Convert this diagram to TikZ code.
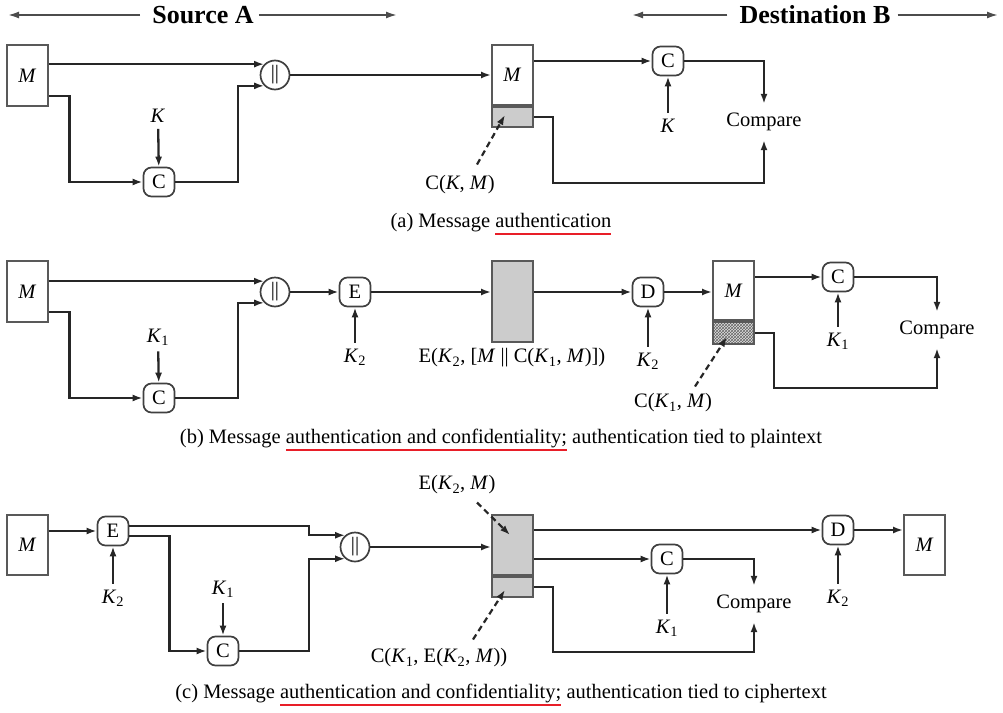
\documentclass[tikz,border=0pt]{standalone}
\usepackage{fontspec}
\setmainfont{Liberation Serif}
\usetikzlibrary{arrows.meta,patterns,calc}
\definecolor{ulred}{RGB}{232,30,40}
\newcommand\redund[1]{\setbox0\hbox{#1}\rlap{\color{ulred}\rule[-8pt]{\wd0}{2pt}}\box0\relax}
\newcommand\Kk[1]{\textit{K}\textsubscript{#1}}
\newcommand\Mi{\textit{M}}
\tikzset{
  ln/.style={line width=2.3pt, draw=black!85},
  arr/.style={ln, -{Latex[length=10pt,width=7pt]}},
  op/.style={draw=black!75, line width=1.7pt, rounded corners=8pt, minimum width=31pt, minimum height=29pt},
  cat/.style={circle, draw=black!75, line width=1.7pt, minimum size=29pt},
  msgbox/.style={draw=black!65, line width=1.9pt, minimum width=41pt},
  keylab/.style={inner ysep=6pt},
  cmp/.style={inner ysep=9pt},
  dsh/.style={line width=2.2pt, draw=black!85, dash pattern=on 6pt off 4pt, -{Latex[length=10pt,width=7pt]}},
  hdr/.style={line width=1.8pt, draw=black!70, -{Latex[length=11pt,width=7pt]}},
  hdrtext/.style={font=\fontsize{26}{30}\selectfont\bfseries},
  capt/.style={anchor=base},
}
\begin{document}
\begin{tikzpicture}[x=1pt,y=-1pt, every node/.style={inner sep=0pt, font=\fontsize{20.5}{24}\selectfont}]
\useasboundingbox (0,0) rectangle (1003,712);
% ---------- header
\node[hdrtext] (SA) at (203,15) {Source A};
\node[hdrtext] (DB) at (815,15) {Destination B};
\coordinate (h1) at (8,15);
\coordinate (h2) at (397,15);
\coordinate (h3) at (632,15);
\coordinate (h4) at (998,15);
\draw[hdr] ($(SA.west)+(-12,0)$) -- (h1);
\draw[hdr] ($(SA.east)+(5,0)$) -- (h2);
\draw[hdr] ($(DB.west)+(-12,0)$) -- (h3);
\draw[hdr] ($(DB.east)+(7,0)$) -- (h4);
% ---------- (a)
\node[msgbox, minimum height=61pt] (Ma) at (27.5,75.5) {\Mi};
\node[cat] (Pa) at (275,75) {||};
\node[op] (Csa) at (159,182) {C};
\node[keylab] (Ksa) at (158,116) {\textit{K}};
\draw[arr] (Ksa) -- (Csa);
\draw[arr] (Ma.east |- Pa.135) -- (Pa.135);
\draw[arr] (Ma.east) ++(0,20.5) -- ++(20.5,0) |- (Csa.west);
\draw[arr] (Csa.east) -| ($(Pa.225)+(-26,0)$) -- (Pa.225);
\node[msgbox, minimum height=60pt] (Mra) at (512.5,75) {\Mi};
\node[msgbox, fill=gray!40, minimum height=20pt, anchor=north] (Tra) at (Mra.south) {};
\draw[arr] (Pa) -- (Mra);
\node[op] (Cra) at (668,61) {C};
\node[keylab] (Kra) at (668,126) {\textit{K}};
\draw[arr] (Kra) -- (Cra);
\draw[arr] (Mra.east |- Cra) -- (Cra);
\node[cmp] (Cmpa) at (764,122) {Compare};
\draw[arr] (Cra.east) -| (Cmpa.north);
\draw[arr] (Tra.east) -- ++(19,0) |- ($(Cmpa.south)+(0,42.5)$) -- (Cmpa.south);
\node (CKMa) at (460,185) {C(\textit{K}, \Mi)};
\draw[dsh] ($(CKMa.north)+(17,-11)$) -- ($(Tra.center)+(-7.5,-2)$);
\node[capt] (capa) at (501,227) {(a) Message \redund{authentication}};
% ---------- (b)
\node[msgbox, minimum height=61pt] (Mb) at (27.5,291.5) {\Mi};
\node[cat] (Pb) at (275,292) {||};
\node[op] (Csb) at (159,398) {C};
\node[keylab] (Ksb) at (158,337) {\Kk{1}};
\draw[arr] (Ksb) -- (Csb);
\draw[arr] (Mb.east |- Pb.135) -- (Pb.135);
\draw[arr] (Mb.east) ++(0,20.5) -- ++(20.5,0) |- (Csb.west);
\draw[arr] (Csb.east) -| ($(Pb.225)+(-26,0)$) -- (Pb.225);
\node[op] (Eb) at (355,292) {E};
\node[keylab] (K2b) at (355,357) {\Kk{2}};
\draw[arr] (K2b) -- (Eb);
\draw[arr] (Pb) -- (Eb);
\node[msgbox, fill=gray!40, minimum height=81pt] (Gb) at (512.5,301.5) {};
\draw[arr] (Eb) -- (Eb -| Gb.west);
\node (EKb) at (512,358) {E(\Kk{2}, [\Mi\ || C(\Kk{1}, \Mi)])};
\node[op] (Db) at (648,292) {D};
\node[keylab] (K2d) at (648,361) {\Kk{2}};
\draw[arr] (K2d) -- (Db);
\draw[arr] (Gb.east |- Db) -- (Db);
\node[msgbox, minimum height=59pt] (Mrb) at (733.5,290.5) {\Mi};
\node[msgbox, preaction={fill=gray!25}, pattern=crosshatch, pattern color=black!60, minimum height=22pt, anchor=north] (Hb) at (Mrb.south) {};
\draw[arr] (Db) -- (Db -| Mrb.west);
\node[op] (Crb) at (838,277) {C};
\node[keylab] (K1b) at (838,341) {\Kk{1}};
\draw[arr] (K1b) -- (Crb);
\draw[arr] (Mrb.east |- Crb) -- (Crb);
\node[cmp] (Cmpb) at (937,330) {Compare};
\draw[arr] (Crb.east) -| (Cmpb.north);
\draw[arr] (Hb.east) -- ++(19,0) |- ($(Cmpb.south)+(0,39.5)$) -- (Cmpb.south);
\node (CKMb) at (673,403) {C(\Kk{1}, \Mi)};
\draw[dsh] ($(CKMb.north)+(22,-7)$) -- ($(Hb.center)+(-6.5,4)$);
\node[capt] (capb) at (501,443) {(b) Message \redund{authentication and confidentiality;} authentication tied to plaintext};
% ---------- (c)
\node[msgbox, minimum height=60pt] (Mc) at (27.5,545) {\Mi};
\node[op] (Ec) at (113,531) {E};
\node[keylab] (K2c) at (113,598) {\Kk{2}};
\draw[arr] (K2c) -- (Ec);
\draw[arr] (Mc.east |- Ec) -- (Ec);
\node[cat] (Pc) at (355,547) {||};
\node[op] (Csc) at (223,651) {C};
\node[keylab] (K1c) at (223,589) {\Kk{1}};
\draw[arr] (K1c) -- (Csc);
\draw[arr] ($(Ec.east)+(0,-5)$) -| ($(Pc.130)+(-36,0)$) -- (Pc.130);
\draw[arr] ($(Ec.east)+(0,5)$) -- ++(40,0) |- (Csc.west);
\draw[arr] (Csc.east) -| ($(Pc.230)+(-36,0)$) -- (Pc.230);
\node[msgbox, fill=gray!40, minimum height=60pt] (Gc) at (512.5,545) {};
\node[msgbox, fill=gray!40, minimum height=20pt, anchor=north] (Gcl) at (Gc.south) {};
\draw[arr] (Pc) -- (Pc -| Gc.west);
\node[op] (Dc) at (838,530) {D};
\node[keylab] (K2e) at (838,598) {\Kk{2}};
\draw[arr] (K2e) -- (Dc);
\draw[arr] (Gc.east |- Dc) -- (Dc);
\node[msgbox, minimum height=60pt] (Mc2) at (924.5,545) {\Mi};
\draw[arr] (Dc) -- (Dc -| Mc2.west);
\node[op] (Crc) at (667,559) {C};
\node[keylab] (K1e) at (667,628) {\Kk{1}};
\draw[arr] (K1e) -- (Crc);
\draw[arr] (Gc.east |- Crc) -- (Crc);
\node[cmp] (Cmpc) at (754,604) {Compare};
\draw[arr] (Crc.east) -| (Cmpc.north);
\draw[arr] (Gcl.east) -- ++(19,0) |- ($(Cmpc.south)+(0,29.5)$) -- (Cmpc.south);
\node (EKc) at (457,485) {E(\Kk{2}, \Mi)};
\draw[dsh] ($(EKc.south)+(20,8)$) -- ($(Gc.center)+(-2.5,-10)$);
\node (CKEc) at (439,658) {C(\Kk{1}, E(\Kk{2}, \Mi))};
\draw[dsh] ($(CKEc.north)+(34,-9)$) -- ($(Gcl.center)+(-7.5,3)$);
\node[capt] (capc) at (501,698) {(c) Message \redund{authentication and confidentiality;} authentication tied to ciphertext};
\end{tikzpicture}
\end{document}
